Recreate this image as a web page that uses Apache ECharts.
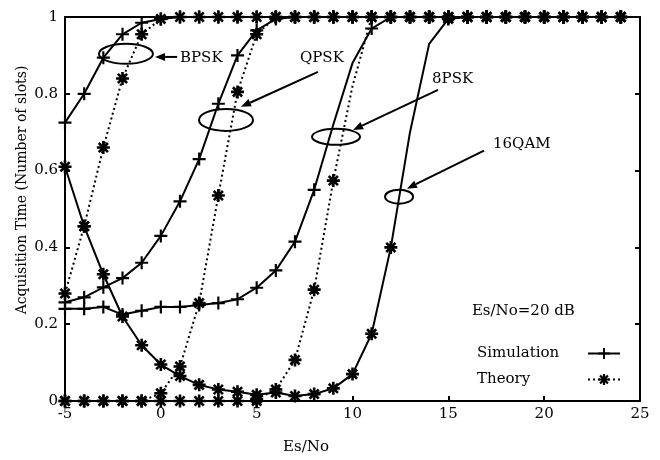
<!DOCTYPE html>
<html><head><meta charset="utf-8">
<script src="https://cdn.jsdelivr.net/npm/echarts@6/dist/echarts.min.js"></script>
<style>html,body{margin:0;padding:0;background:#fff}#c{width:660px;height:460px}</style>
</head><body><div id="c"></div>
<script>
// Es/No values (dB)
const esNo = [-5,-4,-3,-2,-1,0,1,2,3,4,5,6,7,8,9,10,11,12,13,14,15,16,17,18,19,20,21,22,23,24];
const xTicks = [-5,0,5,10,15,20,25];
const yTicks = [0,0.2,0.4,0.6,0.8,1];

const bpskSim = [0.725,0.80,0.894,0.955,0.985,0.995,1,1,1,1,1,1,1,1,1,1,1,1,1,1,1,1,1,1,1,1,1,1,1,1];
const bpskTheory = [0.28,0.455,0.66,0.84,0.955,0.995,1,1,1,1,1,1,1,1,1,1,1,1,1,1,1,1,1,1,1,1,1,1,1,1];
const qpskSim = [0.257,0.27,0.296,0.32,0.36,0.43,0.52,0.63,0.774,0.90,0.965,0.995,1,1,1,1,1,1,1,1,1,1,1,1,1,1,1,1,1,1];
const qpskTheory = [0,0,0,0,0,0.02,0.09,0.255,0.535,0.805,0.955,1,1,1,1,1,1,1,1,1,1,1,1,1,1,1,1,1,1,1];
const psk8Sim = [0.24,0.24,0.245,0.225,0.235,0.245,0.245,0.25,0.255,0.265,0.295,0.34,0.415,0.55,0.72,0.88,0.97,1,1,1,1,1,1,1,1,1,1,1,1,1];
const psk8Theory = [null,null,null,null,null,null,null,null,null,null,0.005,0.03,0.107,0.29,0.574,0.82,1,1,1,1,1,1,1,1,1,1,1,1,1,1];
const qam16Curve = [0.61,0.455,0.33,0.22,0.145,0.095,0.065,0.042,0.03,0.024,0.016,0.022,0.013,0.018,0.033,0.07,0.175,0.40,0.70,0.93,0.995,1,1,1,1,1,1,1,1,1];
const qam16Theory = [0,0,0,0,0,0,0,0,0,0,0,null,null,null,null,null,null,null,null,null,null,null,null,null,null,null,null,null,null,null];

const legendNames = ['Simulation','Theory'];
const noteText = 'Es/No=20 dB';
const xName = 'Es/No';
const yName = 'Acquisition Time (Number of slots)';
// annotations: label, label anchor [x,y], ellipse centre [x,y], ellipse radii px, arrow from/to [x,y]
const notes = [
  {label:'BPSK', at:[1.0,0.894], c:[-1.82,0.904], r:[27,10], from:[0.85,0.896], to:[-0.3,0.896]},
  {label:'QPSK', at:[7.26,0.894], c:[3.40,0.732], r:[27,11], from:[8.2,0.857], to:[4.18,0.766]},
  {label:'8PSK', at:[14.15,0.839], c:[9.14,0.688], r:[24,8], from:[14.46,0.81], to:[10.03,0.706]},
  {label:'16QAM', at:[17.33,0.670], c:[12.43,0.532], r:[14,7], from:[16.86,0.652], to:[12.84,0.553]}
];

const PLUS = 'path://M-6,-1H-1V-6H1V-1H6V1H1V6H-1V1H-6Z';
const STAR = 'path://M-6,-1.2H6V1.2H-6Z M-1.2,-6H1.2V6H-1.2Z M-3.39,-5.09L5.09,3.39L3.39,5.09L-5.09,-3.39Z M-5.09,3.39L3.39,-5.09L5.09,-3.39L-3.39,5.09Z';
const FONT = 'DejaVu Serif';

function pairs(arr){ return esNo.map((x,i)=>[x,arr[i]]); }
function mk(name, arr, solid, sym, hideAt){
  const hide = hideAt || [];
  return {
    name, type:'line', data: arr ? pairs(arr) : [],
    symbol: hide.length ? (v)=> (v && hide.includes(v[0]) ? 'none' : sym) : sym,
    symbolSize: 13, showSymbol:true,
    itemStyle:{color:'#000'},
    lineStyle:{color:'#000', width:2, type: solid?'solid':[2,3]},
    connectNulls:false, animation:false, z: sym===STAR?3:2
  };
}

const chart = echarts.init(document.getElementById('c'), null, {renderer:'canvas'});
const axisCommon = {
  axisLine:{show:true,onZero:false,lineStyle:{color:'#000',width:2}},
  axisTick:{show:true,inside:true,length:5,lineStyle:{color:'#000',width:2}},
  splitLine:{show:false}
};
chart.setOption({
  backgroundColor:'#fff',
  animation:false,
  grid:{left:65,right:20,top:17,bottom:59,containLabel:false},
  xAxis:[
    Object.assign({type:'value',min:-5,max:25,interval:5,position:'bottom',
      axisLabel:{color:'#000',fontFamily:FONT,fontSize:15,margin:6}}, axisCommon),
    Object.assign({type:'value',min:-5,max:25,interval:5,position:'top',axisLabel:{show:false}}, axisCommon)
  ],
  yAxis:[
    Object.assign({type:'value',min:0,max:1,interval:0.2,position:'left',
      axisLabel:{color:'#000',fontFamily:FONT,fontSize:15,margin:7,
        formatter:v=>yTicks.includes(+v.toFixed(1)) ? (v===0||v===1? String(v): v.toFixed(1)) : ''}}, axisCommon),
    Object.assign({type:'value',min:0,max:1,interval:0.2,position:'right',axisLabel:{show:false}}, axisCommon)
  ],
  legend:{
    data:legendNames, orient:'vertical', align:'right', left:472, top:341,
    itemWidth:32, itemHeight:14, itemGap:11, selectedMode:false,
    formatter:'{a|{name}}',
    textStyle:{color:'#000',fontFamily:FONT,fontSize:15,
      rich:{a:{width:106,align:'left',color:'#000',fontFamily:FONT,fontSize:15}}}
  },
  series:[
    mk('Simulation', null, true, PLUS),
    mk('Theory', null, false, STAR),
    mk('BPSK sim', bpskSim, true, PLUS),
    mk('QPSK sim', qpskSim, true, PLUS),
    mk('8PSK sim', psk8Sim, true, PLUS, [9,10]),
    mk('16QAM', qam16Curve, true, STAR, [13,14]),
    mk('16QAM theory', qam16Theory, false, STAR),
    mk('8PSK theory', psk8Theory, false, STAR, [10]),
    mk('QPSK theory', qpskTheory, false, STAR),
    mk('BPSK theory', bpskTheory, false, STAR)
  ]
});

const P = (d)=>chart.convertToPixel({gridIndex:0}, d);
const g = [];
notes.forEach(n=>{
  const c = P(n.c), a = P(n.at), f = P(n.from), t = P(n.to);
  g.push({type:'ellipse', shape:{cx:c[0],cy:c[1],rx:n.r[0],ry:n.r[1]}, style:{fill:'none',stroke:'#000',lineWidth:2}, z:10});
  const dx=t[0]-f[0], dy=t[1]-f[1], L=Math.hypot(dx,dy), ux=dx/L, uy=dy/L;
  const hl=10, hw=4;
  const bx=t[0]-ux*hl, by=t[1]-uy*hl;
  g.push({type:'line', shape:{x1:f[0],y1:f[1],x2:bx,y2:by}, style:{stroke:'#000',lineWidth:2}, z:10});
  g.push({type:'polygon', shape:{points:[[t[0],t[1]],[bx-uy*hw,by+ux*hw],[bx+uy*hw,by-ux*hw]]}, style:{fill:'#000'}, z:10});
  g.push({type:'text', x:a[0], y:a[1], style:{text:n.label, fill:'#000', fontFamily:FONT, fontSize:15, align:'left', verticalAlign:'middle'}, z:10});
});
const np = P([16.23,0.234]);
g.push({type:'text', x:np[0], y:np[1], style:{text:noteText, fill:'#000', fontFamily:FONT, fontSize:15, align:'left', verticalAlign:'middle'}});
g.push({type:'text', x:306, y:447, style:{text:xName, fill:'#000', fontFamily:FONT, fontSize:15, align:'center', verticalAlign:'middle'}});
g.push({type:'text', x:22, y:190, rotation:Math.PI/2, style:{text:yName, fill:'#000', fontFamily:FONT, fontSize:14, align:'center', verticalAlign:'middle'}});
chart.setOption({graphic:g});
</script></body></html>
